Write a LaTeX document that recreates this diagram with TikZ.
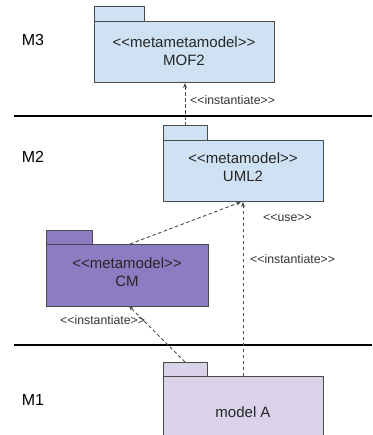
\documentclass[tikz,border=0pt]{standalone}
\usepackage{fontspec}
\setmainfont[Ligatures=TeXOff]{Liberation Sans}
\usetikzlibrary{arrows.meta}
\definecolor{pkgblue}{HTML}{CFE2F3}
\definecolor{pkgpurple}{HTML}{8E7CC3}
\definecolor{pkglilac}{HTML}{D9D2E9}
\definecolor{edgegray}{HTML}{4A4A4A}
\begin{document}
\begin{tikzpicture}[x=1pt,y=-1pt,
  body/.style={draw=edgegray, line width=1pt, anchor=north west, inner sep=0pt, outer sep=0pt},
  tab/.style={draw=edgegray, line width=1pt, anchor=south west, inner sep=0pt, outer sep=0pt, minimum height=15pt},
  stereo/.style={align=center, inner sep=0pt, font=\fontsize{15}{18}\selectfont, text=black!85},
  lbl/.style={anchor=west, inner sep=0pt, font=\fontsize{12.3}{14}\selectfont, text=black!80},
  level/.style={inner sep=0pt, font=\fontsize{16}{19}\selectfont},
  sep/.style={line width=2.6pt, black},
  dep/.style={dashed, dash pattern=on 3.5pt off 2.5pt, line width=0.9pt, edgegray, -{Stealth[length=5pt,width=4pt]}}]
\clip (0,0) rectangle (372,435);
\useasboundingbox (0,0) rectangle (372,435);

% level separators
\coordinate (s1a) at (14,116); \coordinate (s1b) at (372,116);
\coordinate (s2a) at (14,345); \coordinate (s2b) at (372,345);
\draw[sep] (s1a) -- (s1b);
\draw[sep] (s2a) -- (s2b);

% level names
\node[level] (m3) at (33,40) {M3};
\node[level] (m2) at (33,157) {M2};
\node[level] (m1) at (33,400) {M1};

% MOF2 package
\node[body, fill=pkgblue, minimum width=180pt, minimum height=61pt] (mof) at (94,22) {};
\node[tab, fill=pkgblue, minimum width=50pt] (moftab) at (mof.north west) {};
\node[stereo] (moftxt) at (184,51) {<<metametamodel>>\\MOF2};

% UML2 package
\node[body, fill=pkgblue, minimum width=160pt, minimum height=61pt] (uml) at (163,141) {};
\node[tab, fill=pkgblue, minimum width=44pt] (umltab) at (uml.north west) {};
\node[stereo] (umltxt) at (243,167) {<<metamodel>>\\UML2};

% CM package
\node[body, fill=pkgpurple, minimum width=162pt, minimum height=62pt] (cm) at (46,244) {};
\node[tab, fill=pkgpurple, minimum width=46pt, minimum height=14pt] (cmtab) at (cm.north west) {};
\node[stereo] (cmtxt) at (127,272) {<<metamodel>>\\CM};

% model A package
\node[body, fill=pkglilac, minimum width=160pt, minimum height=70pt] (moda) at (163,376) {};
\node[tab, fill=pkglilac, minimum width=44pt, minimum height=14pt] (modatab) at (moda.north west) {};
\node[stereo] (modatxt) at (243,412) {model A};

% dependencies
\draw[dep] (umltab.north) -- (umltab.north |- mof.south);
\draw[dep] ([xshift=3pt]cm.north) -- ([xshift=-2pt]uml.south);
\draw[dep] (moda.north) -- (uml.south);
\draw[dep] (modatab.north) -- ([xshift=2pt]cm.south);

% dependency labels
\node[lbl] (l1) at (190,100) {<<instantiate>>};
\node[lbl] (l2) at (263,218) {<<use>>};
\node[lbl] (l3) at (250,259) {<<instantiate>>};
\node[lbl] (l4) at (60,320) {<<instantiate>>};
\end{tikzpicture}
\end{document}
